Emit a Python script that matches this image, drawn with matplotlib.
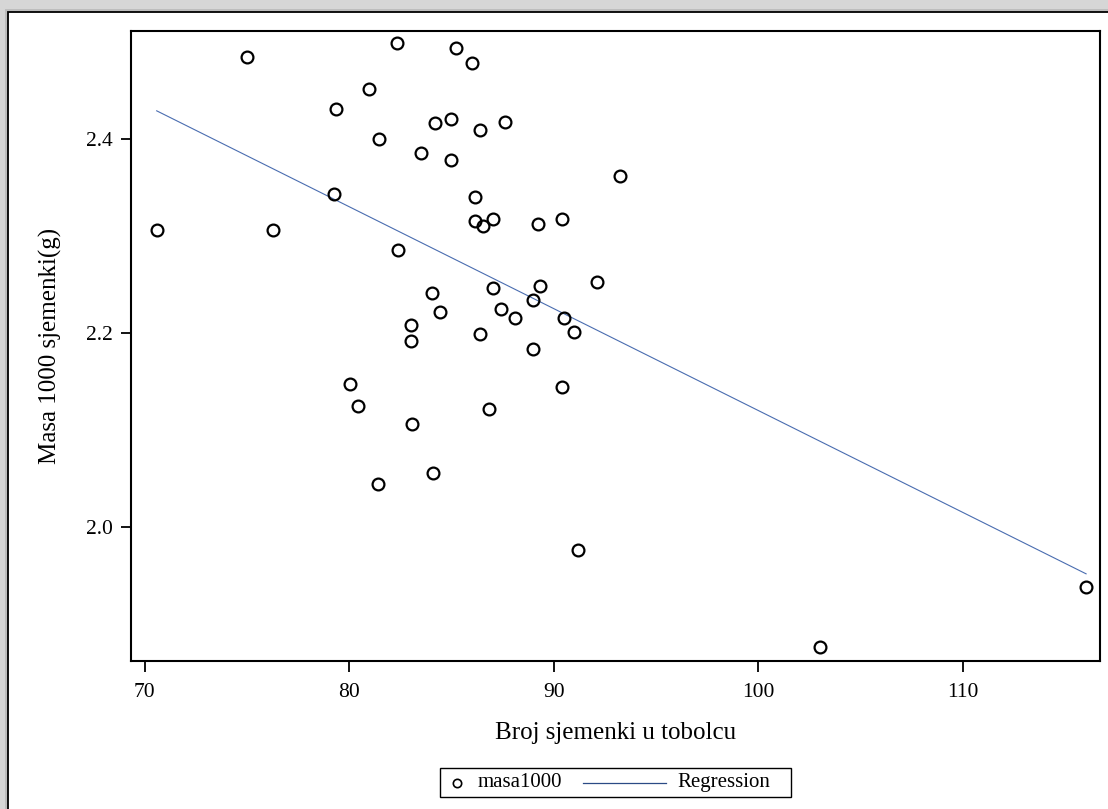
import numpy as np
import matplotlib.pyplot as plt
from matplotlib.patches import Rectangle
from matplotlib.lines import Line2D

# Broj sjemenki u tobolcu / masa 1000 sjemenki (g)
broj = [70.59, 75.00, 76.29, 79.27, 79.35, 80.97, 81.47, 82.35, 82.37, 85.22,
        86.00, 84.21, 84.96, 86.41, 87.60, 83.51, 84.96, 93.23, 86.17, 86.17,
        87.02, 86.54, 89.23, 90.42, 84.03, 84.45, 83.02, 83.02, 87.02, 89.32,
        88.97, 87.42, 88.12, 86.41, 90.50, 91.01, 92.12, 88.97, 80.02, 80.45,
        86.84, 90.42, 83.09, 84.11, 81.39, 91.20, 103.02, 116.03]
masa1000 = [2.306, 2.485, 2.306, 2.343, 2.431, 2.452, 2.400, 2.499, 2.286, 2.494,
            2.478, 2.417, 2.421, 2.409, 2.418, 2.386, 2.378, 2.362, 2.340, 2.316,
            2.318, 2.310, 2.312, 2.318, 2.241, 2.222, 2.208, 2.192, 2.246, 2.248,
            2.234, 2.225, 2.215, 2.199, 2.216, 2.201, 2.253, 2.184, 2.147, 2.125,
            2.122, 2.144, 2.106, 2.056, 2.044, 1.976, 1.876, 1.938]

x_ticks = [70, 80, 90, 100, 110]
y_ticks = [2.0, 2.2, 2.4]

W, H = 1108, 809
plt.rcParams['font.family'] = ['Liberation Serif', 'DejaVu Serif']

fig = plt.figure(figsize=(W / 100, H / 100), dpi=100, facecolor='#d6d6d6')

# grey "shadow" frame round the white panel
fig.add_artist(Rectangle((5 / W, -0.2), 1.3, 1 - 9 / H + 0.2, transform=fig.transFigure,
                         facecolor='#bdbdbd', edgecolor='none', zorder=-3))
fig.add_artist(Rectangle((8 / W, -0.2), 1.3, 1 - 12 / H + 0.2, transform=fig.transFigure,
                         facecolor='white', edgecolor='black', linewidth=1.3, zorder=-2))

ax = fig.add_axes([130.7 / W, 1 - 660.7 / H, (1100 - 130.7) / W, (660.7 - 30.5) / H])

x = np.array(broj)
y = np.array(masa1000)
ax.plot(x, y, 'o', mfc='none', mec='black', ms=8.5, mew=1.6, zorder=3)

# least squares line over the range of x
b, a = np.polyfit(x, y, 1)
xl = np.array([x.min(), x.max()])
ax.plot(xl, a + b * xl, color='#4a6db0', lw=0.8, zorder=2)

ax.set_xlim(69.32, 116.71)
ax.set_ylim(1.8622, 2.5119)
ax.set_xticks(x_ticks)
ax.set_yticks(y_ticks)
ax.set_yticklabels([f'{v:.1f}' for v in y_ticks])
for s in ax.spines.values():
    s.set_linewidth(1.5)
ax.tick_params(axis='x', direction='out', length=8, width=1.3, labelsize=15.5, pad=8)
ax.tick_params(axis='y', direction='out', length=7, width=1.3, labelsize=15.5, pad=6)

ax.set_xlabel('Broj sjemenki u tobolcu', fontsize=18)
ax.set_ylabel('Masa 1000 sjemenki(g)', fontsize=18)
ax.xaxis.set_label_coords(0.5, (660.7 - 722) / (660.7 - 30.5))
ax.yaxis.set_label_coords((62 - 130.7) / (1100 - 130.7), 0.5)

# legend box below the plot
fx = lambda p: p / W
fy = lambda p: 1 - p / H
fig.add_artist(Rectangle((fx(440), fy(797.3)), fx(790.7) - fx(440), 29.6 / H,
                         transform=fig.transFigure, facecolor='white',
                         edgecolor='black', linewidth=1))
fig.add_artist(Line2D([fx(457.3)], [fy(783)], marker='o', mfc='none', mec='black',
                      ms=6, mew=1.2, transform=fig.transFigure))
fig.text(fx(477.6), fy(782.5), 'masa1000', fontsize=15, ha='left', va='center')
fig.add_artist(Line2D([fx(582.5), fx(665.7)], [fy(782.5), fy(782.5)], color='#2b4a85',
                      lw=0.9, transform=fig.transFigure))
fig.text(fx(677.3), fy(782.5), 'Regression', fontsize=15, ha='left', va='center')

fig.savefig('out.png', dpi=100, facecolor=fig.get_facecolor())
